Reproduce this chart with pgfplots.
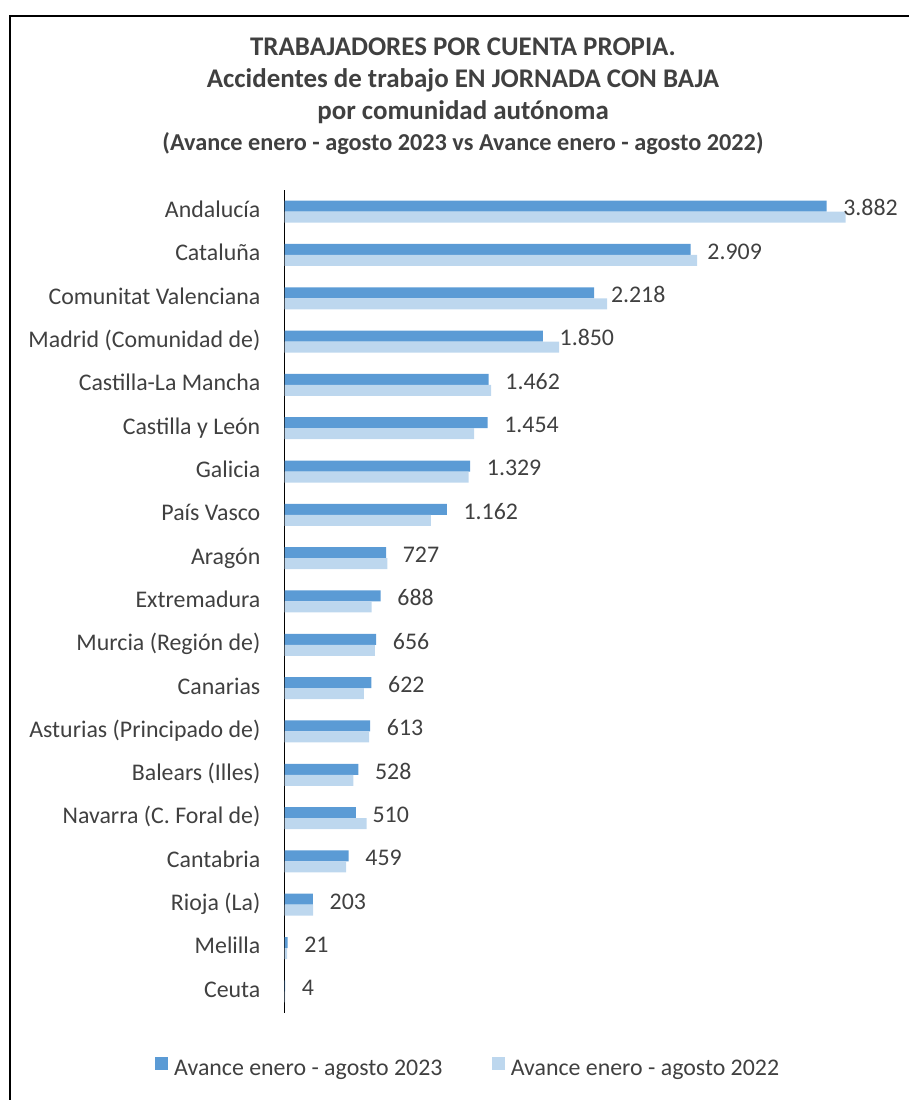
\documentclass[border=0pt]{standalone}
\usepackage{fontspec}
\setmainfont{Carlito}
\usepackage{pgfplots}
\pgfplotsset{compat=1.18}
\usepackage{pgfplotstable}
\definecolor{c23}{HTML}{5B9BD5}
\definecolor{c22}{HTML}{BDD7EE}
\definecolor{txt}{HTML}{404040}

\pgfplotstableread{
y v23 v22
18 3882 4019
17 2909 2956
16 2218 2311
15 1850 1967
14 1462 1479
13 1454 1358
12 1329 1319
11 1162 1047
10 727 737
9 688 623
8 656 646
7 622 567
6 613 606
5 528 492
4 510 587
3 459 440
2 203 205
1 21 18
0 4 3
}\datatable

\begin{document}
\begin{tikzpicture}
\useasboundingbox (0pt,0pt) rectangle (681pt,825pt);
\draw[line width=1.1pt, black] (7.5pt,-7.5pt) -- (7.5pt,813pt) -- (688.5pt,813pt);
\begin{scope}[every node/.style={font=\bfseries\fontsize{20.2}{24}\selectfont, text=txt, anchor=base, inner sep=0pt}]
\node at (347.25pt,783.0pt) {TRABAJADORES POR CUENTA PROPIA.};
\node at (347.25pt,759.6pt) {Accidentes de trabajo EN JORNADA CON BAJA};
\node at (347.25pt,735.6pt) {por comunidad autónoma};
\node[font=\bfseries\fontsize{18.2}{22}\selectfont] at (347.25pt,712.3pt) {(Avance enero - agosto 2023 vs Avance enero - agosto 2022)};
\end{scope}
\begin{axis}[
  at={(213.45pt,65.25pt)}, anchor=south west,
  scale only axis, width=460.67pt, height=617.25pt,
  xmin=0, xmax=4400, ymin=-0.5, ymax=18.5,
  axis x line=none, axis y line=left,
  axis line style={-, black, line width=1.1pt},
  clip=false,
  ytick={0,...,18},
  yticklabels={Ceuta, Melilla, Rioja (La), Cantabria, {Navarra (C. Foral de)}, Balears (Illes), Asturias (Principado de), Canarias, Murcia (Región de), Extremadura, Aragón, País Vasco, Galicia, Castilla y León, Castilla-La Mancha, Madrid (Comunidad de), Comunitat Valenciana, Cataluña, Andalucía},
  major tick length=0pt,
  yticklabel style={font=\fontsize{17.9}{21}\selectfont, text=txt, anchor=east, inner sep=0pt, xshift=-18pt, yshift=-1.2pt, text height=0.644em, text depth=0pt},
  legend columns=2,
  legend style={at={(0.297,-0.065)}, anchor=center, draw=none, fill=none, inner sep=0pt,
    font=\fontsize{17.9}{21}\selectfont, text=txt,
    nodes={inner sep=0pt, text height=0.644em, text depth=0pt},
    /tikz/every odd column/.append style={column sep=4.7pt},
    /tikz/every even column/.append style={column sep=36.75pt}},
  legend cell align=left,
  legend image code/.code={\fill[#1] (0pt,0.9pt) rectangle (9.75pt,10.65pt);},
]
\addplot[xbar, bar width=8.25pt, bar shift=4.125pt, fill=c23, draw=none,
  point meta=x,
  nodes near coords={\pgfmathprintnumber[fixed, precision=0, 1000 sep={.}, assume math mode=true]{\pgfplotspointmeta}},
  every node near coord/.append style={font=\fontsize{17.9}{21}\selectfont, text=txt, anchor=west, inner sep=0pt, xshift=12.4pt, yshift=0pt, text height=0.644em, text depth=0pt}
] table[x=v23, y=y] {\datatable};
\addlegendentry{Avance enero - agosto 2023}
\addplot[xbar, bar width=8.25pt, bar shift=-4.125pt, fill=c22, draw=none] table[x=v22, y=y] {\datatable};
\addlegendentry{Avance enero - agosto 2022}
\end{axis}
\end{tikzpicture}
\end{document}
